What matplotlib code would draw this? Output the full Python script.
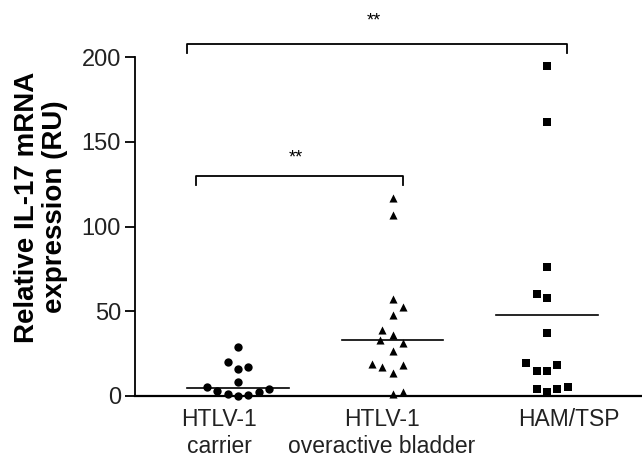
import numpy as np
import matplotlib
matplotlib.use("Agg")
import matplotlib.pyplot as plt

plt.rcParams['font.family'] = ['Liberation Sans', 'DejaVu Sans']

# values (RU)
carrier = [29, 20, 15.7, 17.2, 8.4, 5.1, 2.9, 1.2, 0.0, 0.5, 2.4, 4.1]
carrier_dx = [0, -1, 0, 1, 0, -3, -2, -1, 0, 1, 2, 3]
bladder = [117, 107, 57, 52.5, 47.6, 39.2, 35.9, 33, 31, 26.7, 18.8, 17.2, 13.7, 18.2, 1.2, 2.2]
bladder_dx = [0, 0, 0, 1, 0, -1, 0, -1.2, 1, 0, -2, -1, 0, 1, 0, 1]
hamtsp = [194.7, 161.8, 76, 60, 58, 37.3, 19.2, 14.9, 14.9, 18.2, 3.9, 2.2, 3.9, 5.1]
hamtsp_dx = [0, 0, 0, -1, 0, 0, -2, -1, 0, 1, -1, 0, 1, 2]
center_line = [4.9, 33, 48]

categories = ["HTLV-1\ncarrier", "HTLV-1\noveractive bladder", "HAM/TSP"]
label_pos = [0.877, 1.932, 3.142]

groups = [carrier, bladder, hamtsp]
offsets = [carrier_dx, bladder_dx, hamtsp_dx]
markers = ["o", "^", "s"]
sizes = [36, 34, 28]

fig = plt.figure(figsize=(6.42, 4.63), dpi=100)
ax = fig.add_axes([135/642, 1 - 396/463, 1 - 135/642, (396 - 57)/463])

step = 0.0667
for i, (vals, dx) in enumerate(zip(groups, offsets)):
    xs = i + 1 + np.array(dx) * step
    ax.scatter(xs, vals, marker=markers[i], s=sizes[i], c="black",
               linewidths=0, clip_on=False, zorder=3)
    ax.plot([i + 1 - 0.33, i + 1 + 0.33], [center_line[i]] * 2,
            color="black", lw=1.2, clip_on=False)

ax.set_xlim(0.333, 3.615)
ax.set_ylim(0, 200)
ax.set_yticks([0, 50, 100, 150, 200])
ax.set_xticks(label_pos)
ax.set_xticklabels(categories, fontsize=16.5, linespacing=1.2)
ax.tick_params(axis="x", length=0, pad=9)
ax.tick_params(axis="y", length=7, width=1.3, labelsize=17, pad=3)
for lbl in ax.get_yticklabels() + ax.get_xticklabels():
    lbl.set_color("#222222")

for s in ["top", "right"]:
    ax.spines[s].set_visible(False)
ax.spines["left"].set_linewidth(1.3)
ax.spines["bottom"].set_linewidth(1.6)

# significance brackets
def bracket(x0, x1, y, h, txt_y):
    ax.plot([x0, x0, x1, x1], [y - h, y, y, y - h], color="black", lw=1.3,
            clip_on=False)
    ax.text((x0 + x1) / 2 - 0.02, txt_y, "**", ha="center", va="center",
            fontsize=13, clip_on=False)

bracket(0.668, 3.127, 207.8, 5.3, 221)
bracket(0.726, 2.066, 130, 5.3, 140.5)

fig.text(0.0646, 0.553, "Relative IL-17 mRNA\nexpression (RU)", rotation=90,
         ha="center", va="center", fontsize=20, fontweight="bold",
         linespacing=1.1)

fig.savefig("out.png", dpi=100)
